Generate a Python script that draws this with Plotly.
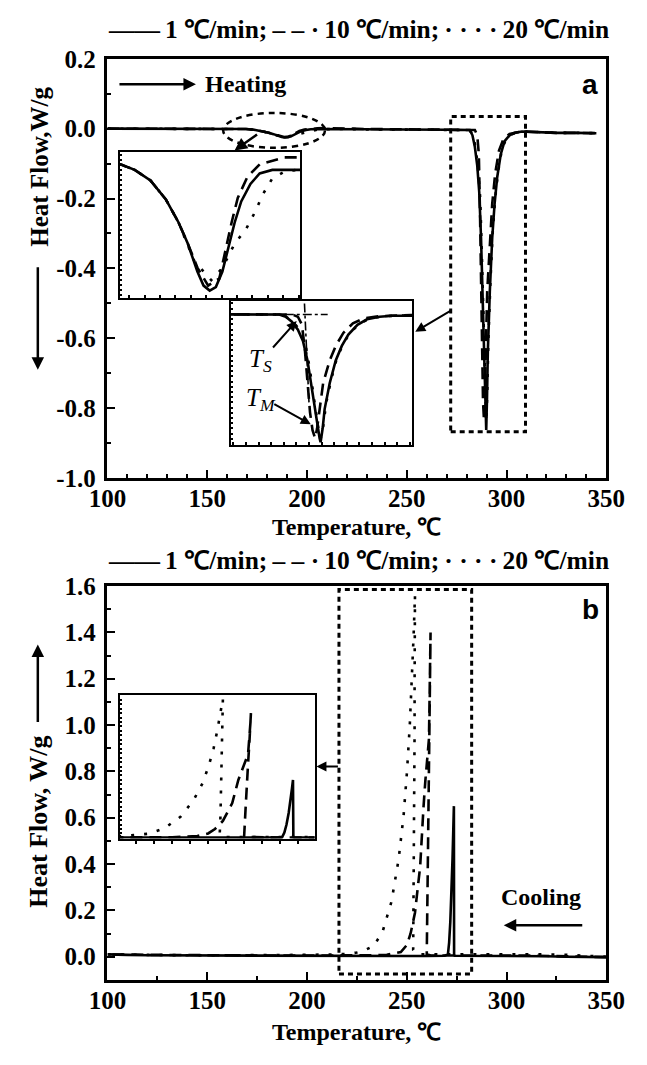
import plotly.graph_objects as go

# ---------------- panel (a): heating, Temperature (degC) / Heat flow (W/g) ----------------
T_heat_1 = [100, 110, 120, 130, 140, 150, 160,
            165.7, 169.4, 173.5, 177.5, 180.8, 183.2, 185.7, 187.3, 188.9, 190.5, 192.2, 193.8,
            195.4, 197.1, 199.5, 201.9, 205.2, 212.5,
            220, 230, 240, 250, 260, 270, 275, 280,
            281.6, 282.9, 284.1, 285.3, 286.3, 287.2, 287.8, 288.4, 289.1, 289.6, 289.8, 290.2,
            290.6, 291.6, 292.8, 294.0, 295.3, 297.1, 299.0, 301.5, 304.0, 307.7,
            315, 325, 335, 345]
HF_heat_1 = [0.0, 0.0, 0.0, 0.0, 0.0, 0.0, 0.0,
             0.0001, -0.0010, -0.0031, -0.0069, -0.0115, -0.0157, -0.0213, -0.0241, -0.0251, -0.0244,
             -0.0213, -0.0164, -0.0115, -0.0073, -0.0038, -0.0017, -0.0010, -0.0010,
             -0.001, -0.002, -0.002, -0.003, -0.003, -0.003, -0.0035, -0.0037,
             -0.0037, -0.019, -0.052, -0.106, -0.182, -0.313, -0.444, -0.597, -0.727, -0.836, -0.863,
             -0.771, -0.640, -0.466, -0.313, -0.215, -0.139, -0.073, -0.036, -0.019, -0.012, -0.008,
             -0.010, -0.012, -0.012, -0.013]

T_heat_10 = [100, 110, 120, 130, 140, 150, 160,
             165.7, 169.4, 173.5, 177.5, 180.8, 183.2, 185.7, 188.5, 191.4, 193.0, 194.6, 196.2,
             198.7, 201.9, 205.2, 208.4, 211.7,
             220, 230, 240, 250, 260, 270, 280,
             284.1, 285.3, 286.1, 286.7, 287.2, 287.7, 288.2, 288.7, 289.1, 289.6, 290.3, 291.6,
             292.8, 294.3, 296.2, 298.4, 301.5, 307.7,
             315, 325, 335, 345]
HF_heat_10 = [0.0, 0.0, 0.0, 0.0, 0.0, 0.0, 0.0,
              0.0001, -0.0010, -0.0031, -0.0069, -0.0115, -0.0157, -0.0205, -0.0241, -0.0227, -0.0171,
              -0.0115, -0.0066, -0.0024, 0.0001, 0.0008, 0.0015, 0.0015,
              0.0005, -0.001, -0.002, -0.002, -0.003, -0.003, -0.0037,
              -0.0037, -0.019, -0.073, -0.248, -0.466, -0.662, -0.782, -0.836, -0.771, -0.640, -0.466,
              -0.313, -0.215, -0.128, -0.063, -0.030, -0.015, -0.008,
              -0.010, -0.012, -0.012, -0.013]

T_heat_20 = [100, 110, 120, 130, 140, 150, 160,
             165.7, 169.4, 173.5, 177.5, 180.8, 184.9, 187.7, 189.3, 192.2, 195.4, 198.3, 200.7,
             202.7, 205.2, 208.4, 211.7,
             220, 230, 240, 250, 260, 270,
             281, 282.5, 284, 285.5, 286.8, 287.7, 288.5, 289.2, 289.8, 290.3, 290.9, 291.9, 293,
             294.3, 295.7, 297.5, 299.5, 302, 305, 308,
             315, 325, 335, 345]
HF_heat_20 = [0.0, 0.0, 0.0, 0.0, 0.0, 0.0, 0.0,
              0.0001, -0.0010, -0.0031, -0.0069, -0.0115, -0.0192, -0.0216, -0.0230, -0.0206, -0.0157,
              -0.0129, -0.0094, -0.0059, -0.0027, -0.0013, -0.0010,
              -0.001, -0.002, -0.002, -0.003, -0.003, -0.003,
              -0.004, -0.012, -0.04, -0.1, -0.2, -0.38, -0.58, -0.74, -0.84, -0.76, -0.6, -0.44, -0.3,
              -0.2, -0.125, -0.065, -0.032, -0.017, -0.011, -0.008,
              -0.010, -0.012, -0.012, -0.013]

# ---------------- panel (b): cooling (recorded from high to low temperature) ----------------
T_cool_1 = [350, 340, 330, 320, 310, 300, 290, 280, 276, 274,
            273.7, 273.6, 273.3, 272.9, 272.4, 271.8, 271.2, 270.6,
            269, 265, 260, 250, 240, 230, 220, 210, 200, 180, 160, 140, 120, 110, 100]
HF_cool_1 = [-0.002, -0.002, 0.0, 0.002, 0.003, 0.004, 0.004, 0.004, 0.004, 0.004,
             0.01, 0.65, 0.55, 0.42, 0.28, 0.15, 0.06, 0.01,
             0.004, 0.003, 0.003, 0.003, 0.003, 0.003, 0.003, 0.003, 0.003, 0.003, 0.004, 0.005,
             0.006, 0.008, 0.01]

T_cool_10 = [350, 340, 330, 320, 310, 300, 290, 280, 270, 265, 262,
             260.0, 260.4, 260.6, 261.1, 261.5, 261.9,
             261.8, 261.1, 259.3, 258.4, 256.7, 254.1, 251.9,
             250, 247, 240, 230, 220, 200, 180, 160, 140, 120, 100]
HF_cool_10 = [-0.002, 0.0, 0.003, 0.004, 0.005, 0.005, 0.005, 0.005, 0.005, 0.005, 0.005,
              0.01, 0.32, 0.50, 0.83, 1.09, 1.40,
              1.31, 0.94, 0.76, 0.65, 0.39, 0.19, 0.10,
              0.05, 0.02, 0.008, 0.006, 0.005, 0.005, 0.005, 0.005, 0.006, 0.008, 0.01]

T_cool_20 = [350, 340, 330, 320, 310, 300, 290, 280, 270, 260, 255,
             253.2, 253.4, 253.6, 253.9, 253.9, 254.1,
             253.4, 252.5, 251.5, 250.1, 248.4, 245.9, 242.3, 237.9, 233.5, 229.2,
             225, 220, 215, 200, 180, 160, 140, 120, 100]
HF_cool_20 = [0.0, 0.005, 0.008, 0.01, 0.01, 0.01, 0.01, 0.01, 0.01, 0.01, 0.01,
              0.03, 0.21, 0.59, 0.98, 1.18, 1.56,
              1.385, 1.195, 1.00, 0.80, 0.61, 0.42, 0.237, 0.109, 0.047, 0.029,
              0.018, 0.012, 0.01, 0.008, 0.006, 0.006, 0.006, 0.008, 0.01]

# ---------------- tick labels / texts ----------------
x_tick_vals = [100, 150, 200, 250, 300, 350]
y_ticks_a = [-1.0, -0.8, -0.6, -0.4, -0.2, 0.0, 0.2]
y_ticks_b = [0.0, 0.2, 0.4, 0.6, 0.8, 1.0, 1.2, 1.4, 1.6]
rate_labels = ["1 ℃/min;", "10 ℃/min;", "20 ℃/min"]
legend_line = ("——\u2009" + rate_labels[0] + "\u2009– – ·\u2009" + rate_labels[1]
               + "\u2009· · · ·\u2009" + rate_labels[2])

# ---------------- figure geometry helpers ----------------
W, H = 647, 1065
def fx(p):
    return p / W
def fy(p):
    return 1 - p / H

BLACK = "black"
SERIF = "Liberation Serif"
styles = [dict(color=BLACK, width=2.6),
          dict(color=BLACK, width=2.6, dash="12px,7px"),
          dict(color=BLACK, width=2.6, dash="3px,10px")]

fig = go.Figure()

heat = [(T_heat_1, HF_heat_1), (T_heat_10, HF_heat_10), (T_heat_20, HF_heat_20)]
cool = [(T_cool_1, HF_cool_1), (T_cool_10, HF_cool_10), (T_cool_20, HF_cool_20)]

for (xs, ys), st, nm in zip(heat, styles, rate_labels):
    for ax in [("x", "y"), ("x3", "y3"), ("x4", "y4")]:
        fig.add_trace(go.Scatter(x=xs, y=ys, mode="lines", line=st, name=nm,
                                 xaxis=ax[0], yaxis=ax[1], showlegend=False, hoverinfo="skip"))
for (xs, ys), st, nm in zip(cool, styles, rate_labels):
    for ax in [("x2", "y2"), ("x5", "y5")]:
        fig.add_trace(go.Scatter(x=xs, y=ys, mode="lines", line=st, name=nm,
                                 xaxis=ax[0], yaxis=ax[1], showlegend=False, hoverinfo="skip"))

tickfont = dict(family=SERIF, size=25, color=BLACK, weight="bold")

def main_x(anchor, minor_dtick):
    return dict(domain=[fx(94), fx(624)], range=[100, 350], anchor=anchor,
                showline=True, linewidth=2.5, linecolor=BLACK, mirror=True,
                ticks="inside", ticklen=8, tickwidth=2, tickcolor=BLACK,
                tickvals=x_tick_vals, ticktext=[str(v) for v in x_tick_vals],
                minor=dict(ticks="inside", ticklen=4, tickwidth=2, tickcolor=BLACK, dtick=minor_dtick, tick0=100),
                tickfont=tickfont, showgrid=False, zeroline=False, ticklabelstandoff=-4)

def main_y(domain, rng, ticks, anchor):
    return dict(domain=domain, range=rng, anchor=anchor,
                showline=True, linewidth=2.5, linecolor=BLACK, mirror=True,
                ticks="inside", ticklen=8, tickwidth=2, tickcolor=BLACK,
                tickvals=ticks, ticktext=[f"{v:.1f}" for v in ticks],
                minor=dict(ticks="inside", ticklen=4, tickwidth=2, tickcolor=BLACK, dtick=0.1, tick0=0),
                tickfont=tickfont, showgrid=False, zeroline=False, ticklabelstandoff=4)

def inset_x(domain, rng, anchor, dtick, ticks="inside"):
    return dict(domain=domain, range=rng, anchor=anchor, showline=True, linewidth=2,
                linecolor=BLACK, mirror=True, ticks=ticks, ticklen=3, tickwidth=1.5,
                tickcolor=BLACK, dtick=dtick, showticklabels=False, showgrid=False, zeroline=False)

def inset_y(domain, rng, anchor, dtick):
    return dict(domain=domain, range=rng, anchor=anchor, showline=True, linewidth=2,
                linecolor=BLACK, mirror=True, ticks="inside", ticklen=2, tickwidth=1.5,
                tickcolor=BLACK, dtick=dtick, tick0=0, showticklabels=False, showgrid=False,
                zeroline=False)

fig.update_layout(
    width=W, height=H, autosize=False,
    margin=dict(l=0, r=0, t=0, b=0),
    paper_bgcolor="white", plot_bgcolor="white",
    font=dict(family=SERIF, color=BLACK),
    xaxis=main_x("y", 10),
    yaxis=main_y([fy(477), fy(47)], [-1.0, 0.2], y_ticks_a, "x"),
    xaxis2=main_x("y2", 25),
    yaxis2=main_y([fy(992), fy(588)], [-0.1, 1.6], y_ticks_b, "x2"),
    xaxis3=inset_x([fx(107), fx(299)], [165.5, 212.5], "y3", 4),
    yaxis3=inset_y([fy(292), fy(143)], [-0.0265, 0.0025], "x3", 0.001),
    xaxis4=inset_x([fx(225), fx(418)], [272, 308], "y4", 2.5),
    yaxis4=inset_y([fy(443), fy(295)], [-0.88, 0.09], "x4", 0.035),
    xaxis5=inset_x([fx(107), fx(314)], [225.4, 279.6], "y5", 5, ticks="outside"),
    yaxis5=inset_y([fy(847), fy(700)], [-0.007, 1.6], "x5", 0.05),
    showlegend=False,
)

shapes = [
    # dashed ellipse around the small transition (panel a)
    dict(type="circle", xref="x", yref="y", x0=158, x1=209, y0=-0.055, y1=0.045,
         line=dict(color=BLACK, width=2.5, dash="6px,5px")),
    # dotted frame around the melting peak (panel a)
    dict(type="rect", xref="x", yref="y", x0=272, x1=309.5, y0=-0.868, y1=0.035,
         line=dict(color=BLACK, width=3, dash="5px,4px")),
    # dotted frame around the crystallization peaks (panel b)
    dict(type="rect", xref="x2", yref="y2", x0=216, x1=282.5, y0=-0.075, y1=1.585,
         line=dict(color=BLACK, width=3, dash="5px,4px")),
    # tangent construction lines in the melting-peak inset
    dict(type="line", xref="x4", yref="y4", x0=272, x1=291.2, y0=-0.0037, y1=-0.0037,
         line=dict(color=BLACK, width=1.6, dash="dashdot")),
    dict(type="line", xref="x4", yref="y4", x0=286.6, x1=287.5, y0=0.07, y1=-0.60,
         line=dict(color=BLACK, width=1.6, dash="dashdot")),
]
fig.update_layout(shapes=shapes)

ann = []
def text(xp, yp, s, size=24, family=SERIF, bold=True, xanchor="center", angle=0):
    ann.append(dict(x=fx(xp), y=fy(yp), xref="paper", yref="paper", text=s, showarrow=False,
                    xanchor=xanchor, yanchor="middle", textangle=angle,
                    font=dict(family=family, size=size, color=BLACK,
                              weight="bold" if bold else "normal")))

def arrow(hx, hy, tx, ty, width=2.5, size=1.0, head=2):
    ann.append(dict(x=fx(hx), y=fy(hy), xref="paper", yref="paper", ax=tx - hx, ay=ty - hy,
                    axref="pixel", ayref="pixel", showarrow=True, arrowhead=head, arrowsize=size,
                    arrowwidth=width, arrowcolor=BLACK, text=""))

# legends (one line of text each, spanning the frame width)
text(361, 17, legend_line, size=25.5)
text(361, 562, legend_line, size=25.5)

# panel a texts
text(196, 73, "Heating", size=24, xanchor="left")
arrow(188, 73, 110, 73)
text(607, 73, "a", size=28, family="Liberation Sans")
arrow(229, 141, 253, 124)
arrow(421, 327, 458, 305, width=2)
text(257, 357, "<i>T</i><sub><i>S</i></sub>", size=25, bold=False)
text(257, 397, "<i>T</i><sub><i>M</i></sub>", size=25, bold=False)
arrow(295, 316, 270, 344, width=2)
arrow(310, 422, 272, 401, width=2)
text(359, 527, "Temperature, ℃", size=24)
text(22, 158, "Heat Flow,W/g", size=25, angle=-90)
arrow(20, 366, 20, 262)

# panel b texts
text(607, 612, "b", size=28, family="Liberation Sans")
text(555, 907, "Cooling", size=24)
arrow(515, 936, 595, 936)
arrow(316, 773, 339, 773, width=2)
text(359, 1046, "Temperature, ℃", size=24)
text(21, 830, "Heat Flow, W/g", size=26, angle=-90)
arrow(20, 648, 20, 727)

fig.update_layout(annotations=ann)
fig.write_html("out.html")
